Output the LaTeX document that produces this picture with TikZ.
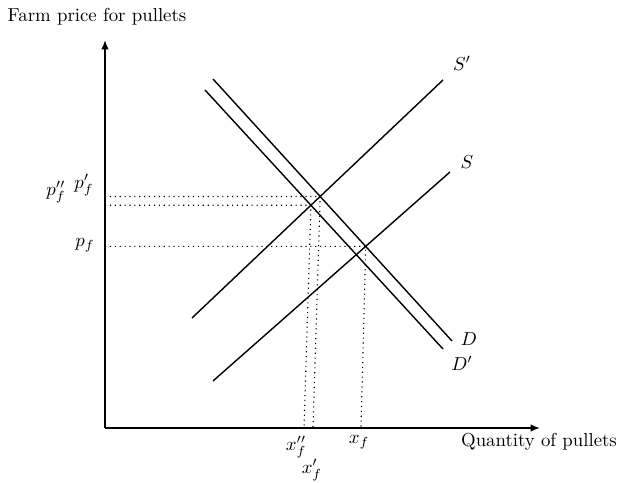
\documentclass[tikz,border=0pt]{standalone}
\usetikzlibrary{arrows.meta,calc}
\begin{document}
\begin{tikzpicture}[x=0.532pt,y=-0.532pt,
  axis/.style={line width=0.9pt,-{Latex[length=5pt,width=4pt]}},
  curve/.style={line width=0.75pt},
  guide/.style={line width=0.6pt,dotted},
  lbl/.style={inner sep=0pt}]
\useasboundingbox (0,0) rectangle (624,483);
% axes
\coordinate (O) at (105,428);
\coordinate (Ytop) at (105,40);
\coordinate (Xend) at (540,428);
\draw[axis] (O) -- (Ytop);
\draw[axis] (O) -- (Xend);
\node[lbl] (ylab) at (97,17) {Farm price for pullets};
\node[lbl] (xlab) at (539,442) {Quantity of pullets};
% curves
\coordinate (S1a) at (192,318);
\coordinate (S1b) at (443,80);
\coordinate (Sa) at (213,381);
\coordinate (Sb) at (450,172);
\coordinate (Da) at (213,79);
\coordinate (Db) at (452,341);
\coordinate (D1a) at (205,90);
\coordinate (D1b) at (443,349);
\draw[curve] (S1a) -- (S1b);
\draw[curve] (Sa) -- (Sb);
\draw[curve] (Da) -- (Db);
\draw[curve] (D1a) -- (D1b);
\node[lbl] (lS1) at (462,63) {$S'$};
\node[lbl] (lS) at (467,162) {$S$};
\node[lbl] (lD) at (469,339) {$D$};
\node[lbl] (lD1) at (462,363) {$D'$};
% equilibria
\coordinate (E) at (intersection of Sa--Sb and Da--Db);
\coordinate (E1) at (intersection of S1a--S1b and Da--Db);
\coordinate (E2) at (intersection of S1a--S1b and D1a--D1b);
\coordinate (xf) at (361,428);
\coordinate (xf1) at (313,428);
\coordinate (xf2) at (304,428);
\draw[guide] (O |- E) -- (E) -- (xf);
\draw[guide] (O |- E1) -- (E1) -- (xf1);
\draw[guide] (O |- E2) -- (E2) -- (xf2);
% labels
\node[lbl] (pf) at (85,245) {$p_f$};
\node[lbl] (pf1) at (84,185) {$p'_f$};
\node[lbl] (pf2) at (56,192) {$p''_f$};
\node[lbl] (lxf) at (359,442) {$x_f$};
\node[lbl] (lxf1) at (312,470) {$x'_f$};
\node[lbl] (lxf2) at (296,447) {$x''_f$};
\end{tikzpicture}
\end{document}
